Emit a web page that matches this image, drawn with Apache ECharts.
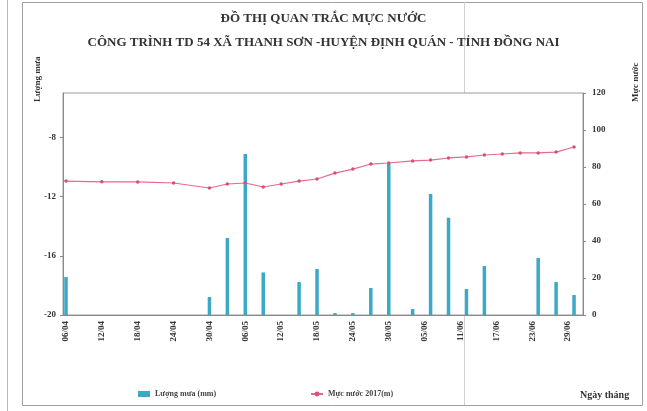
<!DOCTYPE html>
<html>
<head>
<meta charset="utf-8">
<script src="https://cdn.jsdelivr.net/npm/echarts@6/dist/echarts.min.js"></script>
<style>
html,body{margin:0;padding:0;background:#fff;}
#c{width:647px;height:411px;}
</style>
</head>
<body>
<div id="c"></div>
<script>
// Category axis: every day from 06/04 to 01/07
var categories = [
 "06/04","07/04","08/04","09/04","10/04","11/04","12/04","13/04","14/04","15/04","16/04","17/04","18/04","19/04","20/04","21/04","22/04","23/04","24/04","25/04","26/04","27/04","28/04","29/04","30/04",
 "01/05","02/05","03/05","04/05","05/05","06/05","07/05","08/05","09/05","10/05","11/05","12/05","13/05","14/05","15/05","16/05","17/05","18/05","19/05","20/05","21/05","22/05","23/05","24/05","25/05","26/05","27/05","28/05","29/05","30/05","31/05",
 "01/06","02/06","03/06","04/06","05/06","06/06","07/06","08/06","09/06","10/06","11/06","12/06","13/06","14/06","15/06","16/06","17/06","18/06","19/06","20/06","21/06","22/06","23/06","24/06","25/06","26/06","27/06","28/06","29/06","30/06",
 "01/07"
];

// Rainfall (mm) – right axis
var rainDates  = ["06/04","30/04","03/05","06/05","09/05","15/05","18/05","21/05","24/05","27/05","30/05","03/06","06/06","09/06","12/06","15/06","24/06","27/06","30/06"];
var rainValues = [20.5, 9.7, 41.6, 87, 23, 17.8, 24.9, 1, 1, 14.6, 82, 3.2, 65.4, 52.6, 14, 26.5, 30.8, 17.8, 10.8];

// Water level 2017 (m) – left axis
var levelDates  = ["06/04","12/04","18/04","24/04","30/04","03/05","06/05","09/05","12/05","15/05","18/05","21/05","24/05","27/05","30/05","03/06","06/06","09/06","12/06","15/06","18/06","21/06","24/06","27/06","30/06"];
var levelValues = [-10.95,-11.0,-11.01,-11.08,-11.42,-11.15,-11.08,-11.35,-11.15,-10.95,-10.81,-10.41,-10.14,-9.80,-9.73,-9.59,-9.53,-9.39,-9.32,-9.19,-9.12,-9.05,-9.05,-8.99,-8.65];

// Axis ticks
var leftMin = -20, leftMax = -5, leftStep = 4;
var rightMin = 0, rightMax = 120, rightStep = 20;

function spread(dates, vals){
  var out = categories.map(function(){ return null; });
  dates.forEach(function(d,i){ var k = categories.indexOf(d); if(k>=0) out[k] = vals[i]; });
  return out;
}
var rainSeries = spread(rainDates, rainValues);
var levelSeries = spread(levelDates, levelValues);

var F = '"Liberation Serif","Times New Roman",serif';
var chart = echarts.init(document.getElementById('c'), null, {renderer:'canvas'});
chart.setOption({
  animation:false,
  backgroundColor:'#fff',
  title:[
    {text:'ĐỒ THỊ QUAN TRẮC MỰC NƯỚC', left:'center', top:7,
     textStyle:{fontFamily:F, fontWeight:'bold', fontSize:13, color:'#333'}},
    {text:'CÔNG TRÌNH TD 54 XÃ THANH SƠN -HUYỆN ĐỊNH QUÁN - TỈNH ĐỒNG NAI', left:'center', top:31,
     textStyle:{fontFamily:F, fontWeight:'bold', fontSize:13, color:'#333'}}
  ],
  grid:{left:63, right:64, top:93, bottom:96, show:true, borderColor:'#9a9a9a', borderWidth:1, backgroundColor:'#fff'},
  legend:[
    {data:[{name:'Lượng mưa (mm)', icon:'rect'}], left:133, top:385, itemWidth:12, itemHeight:6, itemGap:4,
     textStyle:{fontFamily:F, fontSize:8, fontWeight:'bold', color:'#444'}},
    {data:['Mực nước 2017(m)'], left:305, top:385, itemWidth:12, itemHeight:6,
     textStyle:{fontFamily:F, fontSize:8, fontWeight:'bold', color:'#444'}}
  ],
  xAxis:{
    type:'category', data:categories, boundaryGap:true,
    axisLine:{lineStyle:{color:'#8a8a8a'}},
    axisTick:{interval:5, length:3, lineStyle:{color:'#8a8a8a'}},
    axisLabel:{interval:5, rotate:90, margin:6, fontFamily:F, fontSize:9, fontWeight:'bold', color:'#333'}
  },
  yAxis:[
    {type:'value', min:leftMin, max:leftMax, interval:leftStep, position:'left',
     splitLine:{show:false},
     axisLine:{show:true, lineStyle:{color:'#8a8a8a'}},
     axisTick:{show:true, length:3, lineStyle:{color:'#8a8a8a'}},
     axisLabel:{showMaxLabel:false, margin:7, fontFamily:F, fontSize:9, fontWeight:'bold', color:'#333'}},
    {type:'value', min:rightMin, max:rightMax, interval:rightStep, position:'right',
     splitLine:{show:false},
     axisLine:{show:true, lineStyle:{color:'#8a8a8a'}},
     axisTick:{show:true, length:3, lineStyle:{color:'#8a8a8a'}},
     axisLabel:{margin:9, fontFamily:F, fontSize:9, fontWeight:'bold', color:'#333'}}
  ],
  series:[
    {name:'Lượng mưa (mm)', type:'bar', yAxisIndex:1, data:rainSeries, barWidth:3.5,
     itemStyle:{color:'#3ba8c6'}},
    {name:'Mực nước 2017(m)', type:'line', yAxisIndex:0, data:levelSeries, connectNulls:true,
     symbol:'circle', symbolSize:3.5, showSymbol:true,
     lineStyle:{color:'#e56b8a', width:1.2}, itemStyle:{color:'#d94f78'}}
  ],
  graphic:[
    {type:'rect', shape:{x:22.5, y:2.5, width:620, height:403}, style:{fill:null, stroke:'#a0a0a0', lineWidth:1}, z:-1},
    {type:'line', shape:{x1:7.5, y1:0, x2:7.5, y2:411}, style:{stroke:'#b8b8b8', lineWidth:1}},
    {type:'line', shape:{x1:464.5, y1:2, x2:464.5, y2:405}, style:{stroke:'#d0d0d0', lineWidth:1}, z:-1},
    {type:'text', x:33, y:102, rotation:Math.PI/2,
     style:{text:'Lượng mưa', font:'bold 9px '+F, fill:'#333'}},
    {type:'text', x:631, y:102, rotation:Math.PI/2,
     style:{text:'Mực nước', font:'bold 9px '+F, fill:'#333'}},
    {type:'text', x:580, y:390,
     style:{text:'Ngày tháng', font:'bold 10px '+F, fill:'#333'}}
  ]
});
</script>
</body>
</html>
